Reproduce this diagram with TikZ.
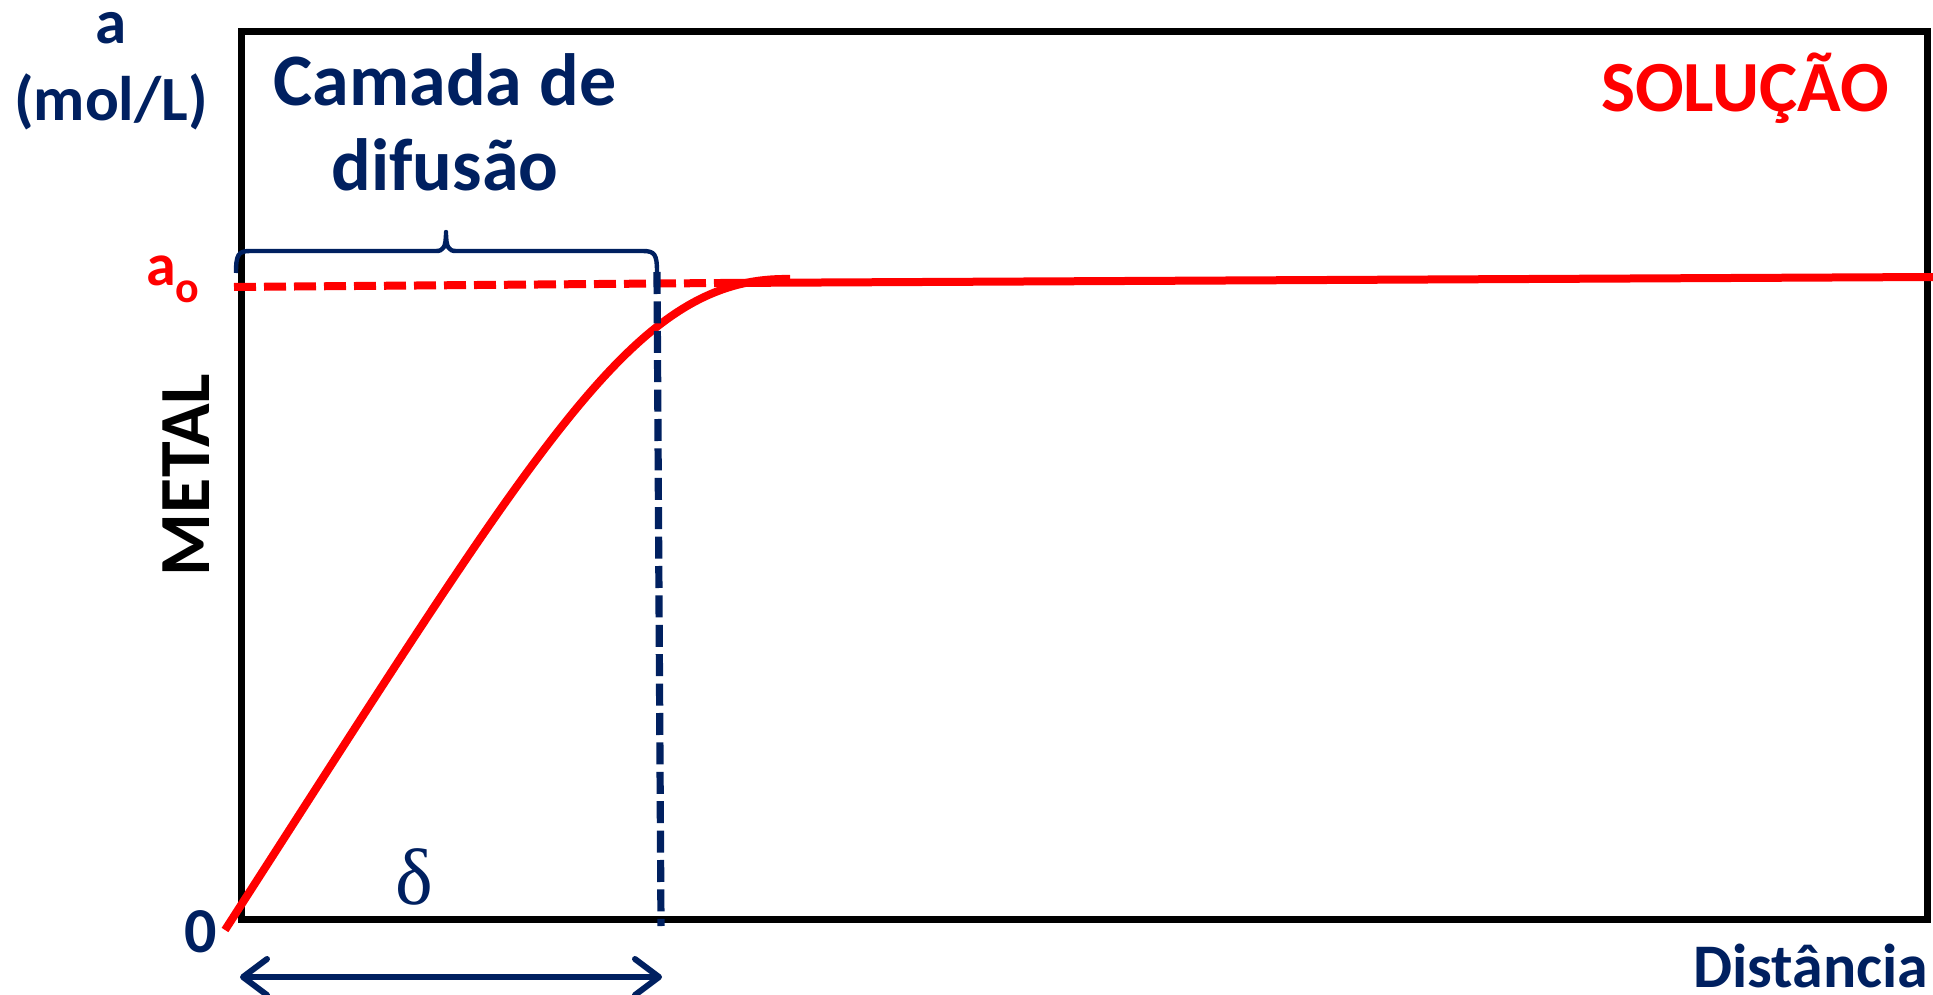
\documentclass[tikz,border=0pt]{standalone}
\usepackage{fontspec}
\setmainfont{Carlito}
\newfontfamily\deltafont{Liberation Serif}
\usetikzlibrary{arrows.meta}
\definecolor{navy}{HTML}{002060}
\definecolor{redc}{HTML}{FF0000}
\tikzset{
  txt/.style={inner sep=0pt, outer sep=0pt, font=\bfseries},
  frameline/.style={draw=black, line width=3.5pt},
  redline/.style={draw=redc, line width=4pt},
  reddash/.style={redline, dash pattern=on 11pt off 4pt},
  bluedash/.style={draw=navy, line width=3.6pt, dash pattern=on 11pt off 3.7pt},
  bracestyle/.style={draw=navy, line width=2.2pt, line join=round},
  dblarrow/.style={draw=navy, line width=3pt, {Straight Barb[length=12pt,width=18pt,round]}-{Straight Barb[length=12pt,width=18pt,round]}}
}
\begin{document}
\begin{tikzpicture}[x=0.5pt, y=-0.5pt]
\useasboundingbox (0,0) rectangle (1933,995);

% frame
\draw[frameline] (241,32) rectangle (1927,919);

% labels
\node[txt, text=navy, align=center, anchor=base, font=\bfseries\fontsize{31.5}{39}\selectfont] (ylab) at (111,121) {a\\(mol/L)};
\node[txt, text=navy, align=center, anchor=base, font=\bfseries\fontsize{37}{43}\selectfont] (camada) at (445,191) {Camada de\\difusão};
\node[txt, text=redc, anchor=base, font=\bfseries\fontsize{36}{36}\selectfont] (sol) at (1745,112) {SOLUÇÃO};
\node[txt, text=navy, anchor=base east, font=\bfseries\fontsize{31}{31}\selectfont] (dist) at (1928,987) {Distância};
\node[txt, text=black, rotate=90, font=\bfseries\fontsize{36}{36}\selectfont] (metal) at (186,475) {METAL};
\node[txt, text=redc, anchor=base west, font=\bfseries\fontsize{30}{30}\selectfont] (ao) at (146,285) {a\raisebox{-8.5pt}{\fontsize{22}{22}\selectfont o}};
\node[txt, text=navy, font=\bfseries\fontsize{32}{32}\selectfont] (zero) at (201,932) {0};
\node[txt, text=navy, font=\deltafont\fontsize{40}{40}\selectfont] (delta) at (414,877) {δ};

% coordinates
\coordinate (dashL) at (234,287);
\coordinate (dashR) at (720,283);
\coordinate (lineR) at (1933,277);
\coordinate (cStart) at (225,930);
\coordinate (cEnd) at (790,279);
\coordinate (vTop) at (657,272);
\coordinate (vBot) at (661,926);
\coordinate (arrL) at (240,977);
\coordinate (arrR) at (662,977);

% red a_o line
\draw[reddash] (dashL) -- (dashR);
\draw[redline] (dashR) -- (lineR);
% concentration profile
\draw[redline] (cStart) .. controls (546,432) and (635,276) .. (cEnd);

% diffusion layer boundary
\draw[bluedash] (vTop) -- (vBot);

% brace
\draw[bracestyle] (236,273) .. controls (236,255) and (238,251) .. (250,251)
  -- (436,251) .. controls (443,251) and (446,248) .. (446,232)
  .. controls (446,248) and (449,251) .. (456,251)
  -- (643,251) .. controls (655,251) and (657,255) .. (vTop);

% delta arrow
\draw[dblarrow] (arrL) -- (arrR);
\end{tikzpicture}
\end{document}
